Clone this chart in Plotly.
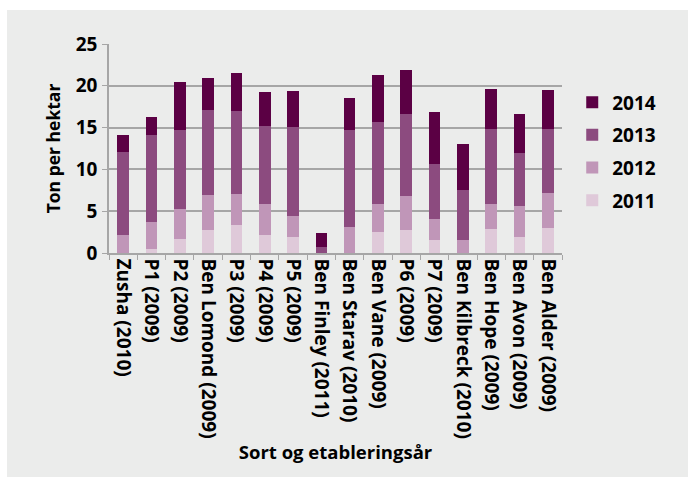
import plotly.graph_objects as go

categories = ["Zusha (2010)", "P1 (2009)", "P2 (2009)", "Ben Lomond (2009)", "P3 (2009)",
              "P4 (2009)", "P5 (2009)", "Ben Finley (2011)", "Ben Starav (2010)",
              "Ben Vane (2009)", "P6 (2009)", "P7 (2009)", "Ben Kilbreck (2010)",
              "Ben Hope (2009)", "Ben Avon (2009)", "Ben Alder (2009)"]
y2011 = [0, 0.5, 1.7, 2.8, 3.4, 2.15, 1.9, 0, 0, 2.5, 2.75, 1.6, 0, 2.85, 1.9, 2.95]
y2012 = [2.1, 3.2, 3.6, 4.15, 3.65, 3.75, 2.5, 0, 3.1, 3.4, 4.1, 2.45, 1.55, 3.05, 3.7, 4.2]
y2013 = [10.0, 10.4, 9.45, 10.2, 9.95, 9.25, 10.7, 0.7, 11.65, 9.8, 9.75, 6.6, 6.0, 8.95, 6.4, 7.65]
y2014 = [2.0, 2.15, 5.7, 3.8, 4.5, 4.05, 4.25, 1.75, 3.85, 5.6, 5.25, 6.2, 5.45, 4.75, 4.65, 4.7]
series_names = ["2011", "2012", "2013", "2014"]
colors = ["#dfc9d9", "#c096b8", "#8c4b7f", "#5b0044"]

FONT = "Open Sans"
BG = "#ebeceb"
GRID = "#a6a6a6"

fig = go.Figure()
n = len(series_names)
for i, (name, vals, col) in enumerate(zip(series_names, [y2011, y2012, y2013, y2014], colors)):
    fig.add_trace(go.Bar(x=categories, y=vals, name=name, legendgroup=name,
                         legendrank=(n - i) * 100,
                         marker=dict(color=col, line=dict(width=0))))

fig.update_layout(
    width=688, height=477,
    barmode="stack", bargap=0.59,
    paper_bgcolor=BG, plot_bgcolor=BG,
    margin=dict(l=109, r=126, t=44, b=224, autoexpand=False),
    font=dict(family=FONT, size=19, color="black", weight="bold"),
    showlegend=True,
    legend=dict(x=1.0226, y=0.812, xanchor="left", yanchor="top",
                traceorder="grouped", tracegroupgap=5,
                bgcolor="rgba(0,0,0,0)",
                font=dict(family=FONT, size=19, color="black", weight="bold")),
    shapes=[
        dict(type="rect", xref="paper", yref="paper",
             x0=-1, x1=2, y0=1 + (44 - 10) / 209, y1=2,
             fillcolor="white", line=dict(width=0), layer="below"),
        dict(type="rect", xref="paper", yref="paper",
             x0=-1, x1=(7 - 109) / 453, y0=-2, y1=2,
             fillcolor="white", line=dict(width=0), layer="below"),
    ],
)
fig.update_xaxes(
    type="category", tickangle=90, tickson="boundaries",
    ticks="outside", ticklen=5, tickcolor=GRID,
    showline=True, linecolor=GRID, linewidth=1.5,
    showgrid=False,
    tickfont=dict(family=FONT, size=19, color="black", weight="bold"),
    title=dict(text="Sort og etableringsår", standoff=8,
               font=dict(family=FONT, size=18.5, color="black", weight="bold")),
)
fig.update_yaxes(
    range=[0, 25], dtick=5, tick0=0,
    ticks="outside", ticklen=5, tickcolor=GRID,
    showline=True, linecolor=GRID, linewidth=1.5,
    showgrid=True, gridcolor=GRID, gridwidth=1.5,
    zeroline=False,
    ticklabelstandoff=1,
    tickfont=dict(family=FONT, size=19, color="black", weight="bold"),
    title=dict(text="Ton per hektar", standoff=11,
               font=dict(family=FONT, size=17.5, color="black", weight="bold")),
)

fig.write_html("out.html", config={"displayModeBar": False},
               post_script="document.body.style.margin='0';")
